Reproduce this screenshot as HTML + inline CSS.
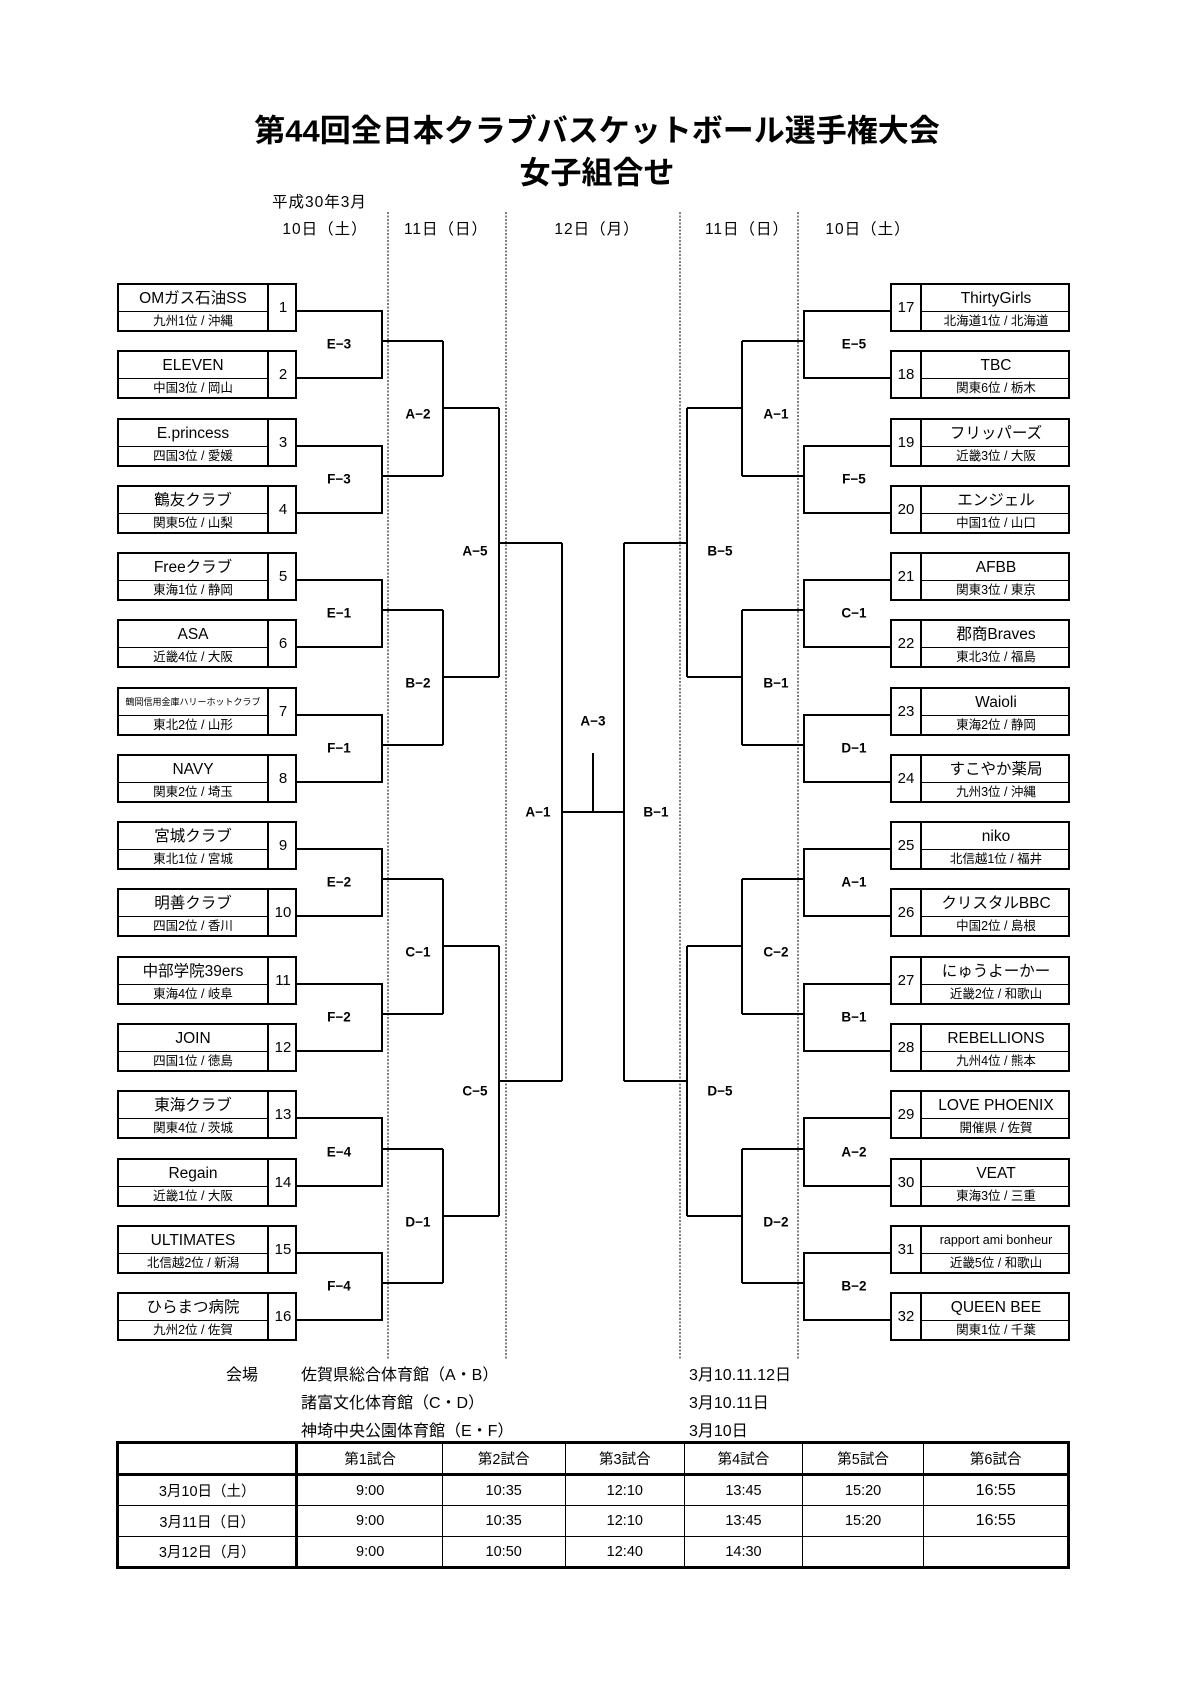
<!DOCTYPE html>
<html><head><meta charset="utf-8"><style>
body{margin:0;background:#fff;width:1190px;height:1684px;position:relative;overflow:hidden;font-family:"Liberation Sans","Noto Sans CJK JP",sans-serif;color:#000}
.t{position:absolute;white-space:nowrap;transform:translate(-50%,-50%)}
.l{position:absolute;white-space:nowrap;transform:translateY(-50%)}
.b{position:absolute;width:180px;height:49px;border:2px solid #000;box-sizing:border-box}
.b .nm{position:absolute;top:0;height:27px;width:148px;border-bottom:1.5px solid #000;box-sizing:border-box;text-align:center;font-size:15.5px;line-height:27px;white-space:nowrap;overflow:hidden}
.b .sb{position:absolute;top:27px;height:18px;width:148px;text-align:center;font-size:12.5px;line-height:18px;white-space:nowrap}
.b .no{position:absolute;top:0;height:45px;width:28px;text-align:center;font-size:15px;line-height:45px}
.L .nm,.L .sb{left:0}.L .no{left:148px;border-left:2px solid #000}
.R .no{left:0;border-right:2px solid #000}.R .nm,.R .sb{left:30px}
.rl{position:absolute;font-size:13.5px;font-weight:bold;transform:translate(-50%,-50%);white-space:nowrap}
table{position:absolute;left:116px;top:1441px;width:954px;height:127px;border-collapse:collapse;border:3.5px solid #000;font-size:14.5px;text-align:center}
td{border:1.5px solid #000;padding:0}
tr.h td{border-bottom:3.5px solid #000}
td.f{border-right:3px solid #000}
</style></head><body>
<div class="t" style="left:597px;top:128px;font-size:31px;font-weight:bold">第44回全日本クラブバスケットボール選手権大会</div>
<div class="t" style="left:597px;top:170px;font-size:31px;font-weight:bold">女子組合せ</div>
<div class="l" style="left:272px;top:201px;font-size:15.5px;letter-spacing:1px">平成30年3月</div>
<div class="t" style="left:325px;top:228px;font-size:15.5px;letter-spacing:1px">10日（土）</div>
<div class="t" style="left:446px;top:228px;font-size:15.5px;letter-spacing:1px">11日（日）</div>
<div class="t" style="left:597px;top:228px;font-size:15.5px;letter-spacing:1px">12日（月）</div>
<div class="t" style="left:747px;top:228px;font-size:15.5px;letter-spacing:1px">11日（日）</div>
<div class="t" style="left:868px;top:228px;font-size:15.5px;letter-spacing:1px">10日（土）</div>

<svg width="1190" height="1684" style="position:absolute;left:0;top:0" fill="none" stroke="#000">
<g stroke-width="1" stroke-dasharray="2,1.5">
<path d="M388 212V1359M506 212V1359M680 212V1359M798 212V1359"/>
</g>
<g stroke-width="2">
<path d="M296 311H382V378H296M382 341H443"/>
<path d="M296 446H382V513H296M382 476H443"/>
<path d="M296 580H382V647H296M382 610H443"/>
<path d="M296 715H382V782H296M382 745H443"/>
<path d="M296 849H382V916H296M382 879H443"/>
<path d="M296 984H382V1051H296M382 1014H443"/>
<path d="M296 1118H382V1186H296M382 1149H443"/>
<path d="M296 1253H382V1320H296M382 1283H443"/>
<path d="M443 341V476M443 408H499M443 610V745M443 677H499M443 879V1014M443 946H499M443 1149V1283M443 1216H499"/>
<path d="M499 408V677M499 543H562M499 946V1216M499 1081H562"/>
<path d="M562 543V1081M562 812H624M624 543V1081M593 753V812"/>
<path d="M890 311H804V378H890M804 341H742"/>
<path d="M890 446H804V513H890M804 476H742"/>
<path d="M890 580H804V647H890M804 610H742"/>
<path d="M890 715H804V782H890M804 745H742"/>
<path d="M890 849H804V916H890M804 879H742"/>
<path d="M890 984H804V1051H890M804 1014H742"/>
<path d="M890 1118H804V1186H890M804 1149H742"/>
<path d="M890 1253H804V1320H890M804 1283H742"/>
<path d="M742 341V476M742 408H687M742 610V745M742 677H687M742 879V1014M742 946H687M742 1149V1283M742 1216H687"/>
<path d="M687 408V677M687 543H624M687 946V1216M687 1081H624"/>
</g>
</svg>

<div class="b L" style="left:117px;top:283px"><div class="nm">OMガス石油SS</div><div class="sb">九州1位 / 沖縄</div><div class="no">1</div></div>
<div class="b L" style="left:117px;top:350px"><div class="nm">ELEVEN</div><div class="sb">中国3位 / 岡山</div><div class="no">2</div></div>
<div class="b L" style="left:117px;top:418px"><div class="nm">E.princess</div><div class="sb">四国3位 / 愛媛</div><div class="no">3</div></div>
<div class="b L" style="left:117px;top:485px"><div class="nm">鶴友クラブ</div><div class="sb">関東5位 / 山梨</div><div class="no">4</div></div>
<div class="b L" style="left:117px;top:552px"><div class="nm">Freeクラブ</div><div class="sb">東海1位 / 静岡</div><div class="no">5</div></div>
<div class="b L" style="left:117px;top:619px"><div class="nm">ASA</div><div class="sb">近畿4位 / 大阪</div><div class="no">6</div></div>
<div class="b L" style="left:117px;top:687px"><div class="nm" style="font-size:9px">鶴岡信用金庫ハリーホットクラブ</div><div class="sb">東北2位 / 山形</div><div class="no">7</div></div>
<div class="b L" style="left:117px;top:754px"><div class="nm">NAVY</div><div class="sb">関東2位 / 埼玉</div><div class="no">8</div></div>
<div class="b L" style="left:117px;top:821px"><div class="nm">宮城クラブ</div><div class="sb">東北1位 / 宮城</div><div class="no">9</div></div>
<div class="b L" style="left:117px;top:888px"><div class="nm">明善クラブ</div><div class="sb">四国2位 / 香川</div><div class="no">10</div></div>
<div class="b L" style="left:117px;top:956px"><div class="nm">中部学院39ers</div><div class="sb">東海4位 / 岐阜</div><div class="no">11</div></div>
<div class="b L" style="left:117px;top:1023px"><div class="nm">JOIN</div><div class="sb">四国1位 / 徳島</div><div class="no">12</div></div>
<div class="b L" style="left:117px;top:1090px"><div class="nm">東海クラブ</div><div class="sb">関東4位 / 茨城</div><div class="no">13</div></div>
<div class="b L" style="left:117px;top:1158px"><div class="nm">Regain</div><div class="sb">近畿1位 / 大阪</div><div class="no">14</div></div>
<div class="b L" style="left:117px;top:1225px"><div class="nm">ULTIMATES</div><div class="sb">北信越2位 / 新潟</div><div class="no">15</div></div>
<div class="b L" style="left:117px;top:1292px"><div class="nm">ひらまつ病院</div><div class="sb">九州2位 / 佐賀</div><div class="no">16</div></div>
<div class="b R" style="left:890px;top:283px"><div class="nm">ThirtyGirls</div><div class="sb">北海道1位 / 北海道</div><div class="no">17</div></div>
<div class="b R" style="left:890px;top:350px"><div class="nm">TBC</div><div class="sb">関東6位 / 栃木</div><div class="no">18</div></div>
<div class="b R" style="left:890px;top:418px"><div class="nm">フリッパーズ</div><div class="sb">近畿3位 / 大阪</div><div class="no">19</div></div>
<div class="b R" style="left:890px;top:485px"><div class="nm">エンジェル</div><div class="sb">中国1位 / 山口</div><div class="no">20</div></div>
<div class="b R" style="left:890px;top:552px"><div class="nm">AFBB</div><div class="sb">関東3位 / 東京</div><div class="no">21</div></div>
<div class="b R" style="left:890px;top:619px"><div class="nm">郡商Braves</div><div class="sb">東北3位 / 福島</div><div class="no">22</div></div>
<div class="b R" style="left:890px;top:687px"><div class="nm">Waioli</div><div class="sb">東海2位 / 静岡</div><div class="no">23</div></div>
<div class="b R" style="left:890px;top:754px"><div class="nm">すこやか薬局</div><div class="sb">九州3位 / 沖縄</div><div class="no">24</div></div>
<div class="b R" style="left:890px;top:821px"><div class="nm">niko</div><div class="sb">北信越1位 / 福井</div><div class="no">25</div></div>
<div class="b R" style="left:890px;top:888px"><div class="nm">クリスタルBBC</div><div class="sb">中国2位 / 島根</div><div class="no">26</div></div>
<div class="b R" style="left:890px;top:956px"><div class="nm">にゅうよーかー</div><div class="sb">近畿2位 / 和歌山</div><div class="no">27</div></div>
<div class="b R" style="left:890px;top:1023px"><div class="nm">REBELLIONS</div><div class="sb">九州4位 / 熊本</div><div class="no">28</div></div>
<div class="b R" style="left:890px;top:1090px"><div class="nm">LOVE PHOENIX</div><div class="sb">開催県 / 佐賀</div><div class="no">29</div></div>
<div class="b R" style="left:890px;top:1158px"><div class="nm">VEAT</div><div class="sb">東海3位 / 三重</div><div class="no">30</div></div>
<div class="b R" style="left:890px;top:1225px"><div class="nm" style="font-size:12.5px">rapport ami bonheur</div><div class="sb">近畿5位 / 和歌山</div><div class="no">31</div></div>
<div class="b R" style="left:890px;top:1292px"><div class="nm">QUEEN BEE</div><div class="sb">関東1位 / 千葉</div><div class="no">32</div></div>

<div class="rl" style="left:339px;top:344px">E−3</div>
<div class="rl" style="left:339px;top:479px">F−3</div>
<div class="rl" style="left:339px;top:613px">E−1</div>
<div class="rl" style="left:339px;top:748px">F−1</div>
<div class="rl" style="left:339px;top:882px">E−2</div>
<div class="rl" style="left:339px;top:1017px">F−2</div>
<div class="rl" style="left:339px;top:1152px">E−4</div>
<div class="rl" style="left:339px;top:1286px">F−4</div>
<div class="rl" style="left:418px;top:414px">A−2</div>
<div class="rl" style="left:418px;top:683px">B−2</div>
<div class="rl" style="left:418px;top:952px">C−1</div>
<div class="rl" style="left:418px;top:1222px">D−1</div>
<div class="rl" style="left:475px;top:551px">A−5</div>
<div class="rl" style="left:475px;top:1091px">C−5</div>
<div class="rl" style="left:538px;top:812px">A−1</div>
<div class="rl" style="left:656px;top:812px">B−1</div>
<div class="rl" style="left:593px;top:721px">A−3</div>
<div class="rl" style="left:854px;top:344px">E−5</div>
<div class="rl" style="left:854px;top:479px">F−5</div>
<div class="rl" style="left:854px;top:613px">C−1</div>
<div class="rl" style="left:854px;top:748px">D−1</div>
<div class="rl" style="left:854px;top:882px">A−1</div>
<div class="rl" style="left:854px;top:1017px">B−1</div>
<div class="rl" style="left:854px;top:1152px">A−2</div>
<div class="rl" style="left:854px;top:1286px">B−2</div>
<div class="rl" style="left:776px;top:414px">A−1</div>
<div class="rl" style="left:776px;top:683px">B−1</div>
<div class="rl" style="left:776px;top:952px">C−2</div>
<div class="rl" style="left:776px;top:1222px">D−2</div>
<div class="rl" style="left:720px;top:551px">B−5</div>
<div class="rl" style="left:720px;top:1091px">D−5</div>

<div class="l" style="left:226px;top:1373px;font-size:16px">会場</div>
<div class="l" style="left:301px;top:1373px;font-size:16px">佐賀県総合体育館（A・B）</div>
<div class="l" style="left:301px;top:1401px;font-size:16px">諸富文化体育館（C・D）</div>
<div class="l" style="left:301px;top:1429px;font-size:16px">神埼中央公園体育館（E・F）</div>
<div class="l" style="left:689px;top:1373px;font-size:16px">3月10.11.12日</div>
<div class="l" style="left:689px;top:1401px;font-size:16px">3月10.11日</div>
<div class="l" style="left:689px;top:1429px;font-size:16px">3月10日</div>

<table>
<colgroup><col style="width:180px"><col style="width:146px"><col style="width:123px"><col style="width:120px"><col style="width:118px"><col style="width:122px"><col style="width:145px"></colgroup>
<tr class="h" style="height:32px"><td class="f"></td><td>第1試合</td><td>第2試合</td><td>第3試合</td><td>第4試合</td><td>第5試合</td><td>第6試合</td></tr>
<tr style="height:31px"><td class="f">3月10日（土）</td><td>9:00</td><td>10:35</td><td>12:10</td><td>13:45</td><td>15:20</td><td style="font-size:16px">16:55</td></tr>
<tr style="height:31px"><td class="f">3月11日（日）</td><td>9:00</td><td>10:35</td><td>12:10</td><td>13:45</td><td>15:20</td><td style="font-size:16px">16:55</td></tr>
<tr style="height:31px"><td class="f">3月12日（月）</td><td>9:00</td><td>10:50</td><td>12:40</td><td>14:30</td><td></td><td></td></tr>
</table>
</body></html>
